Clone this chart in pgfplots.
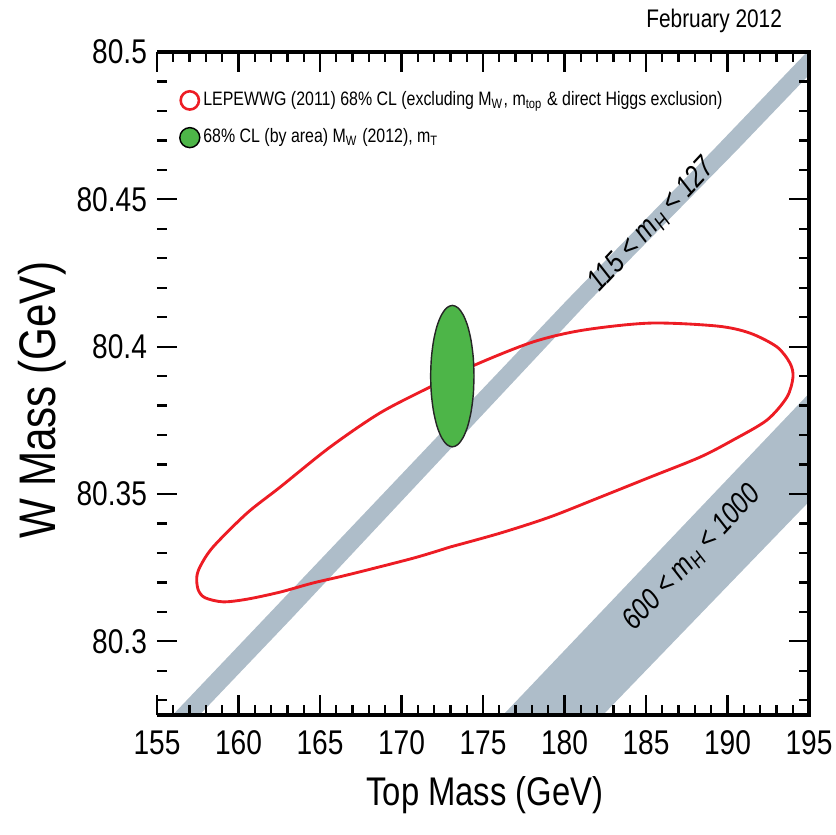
\documentclass[border=0pt]{standalone}
\usepackage{fontspec}
\setmainfont{Liberation Sans}[FakeStretch=0.82]
\usepackage{pgfplots}
\pgfplotsset{compat=1.18}
\definecolor{bandgray}{RGB}{174,189,201}
\definecolor{lepred}{RGB}{237,28,36}
\definecolor{cdfgreen}{RGB}{77,181,72}
\begin{document}
\begin{tikzpicture}
\begin{axis}[
  name=ax,
  scale only axis, width=228.2pt, height=232.05pt,
  xmin=155, xmax=195, ymin=80.275, ymax=80.5,
  xtick={155,160,...,195},
  minor xtick={155,...,195},
  ytick={80.3,80.35,80.4,80.45,80.5},
  yticklabels={80.3,80.35,80.4,80.45,80.5},
  minor ytick={80.28,80.29,80.31,80.32,80.33,80.34,80.36,80.37,80.38,80.39,80.41,80.42,80.43,80.44,80.46,80.47,80.48,80.49},
  scaled ticks=false,
  /pgf/number format/assume math mode=true,
  tick label style={font=\fontsize{12}{14}\selectfont},
  xticklabel style={yshift=-2pt},
  tick align=inside,
  major tick length=7pt, minor tick length=3.5pt,
  tick style={line width=0.8pt, black},
  axis line style={draw=none},
  axis on top=true,
  every axis x label/.style={at={(axis description cs:0.503,-0.121)}, anchor=center, font=\fontsize{14}{16}\selectfont},
  every axis y label/.style={at={(axis description cs:-0.176,0.475)}, anchor=center, rotate=90, font=\fontsize{18}{20}\selectfont},
  xlabel={Top Mass (GeV)},
  ylabel={W Mass (GeV)},
  legend style={at={(axis description cs:0.033,0.946)}, anchor=north west, draw=none, fill=none,
    font=\fontsize{6.8}{7.8}\selectfont, row sep=4.6pt, inner sep=0pt, nodes={inner sep=1pt}},
  legend cell align=left,
]
% 115 < mH < 127 band
\addplot[draw=none, fill=bandgray, forget plot] coordinates {
 (155.963,80.275) (161.503,80.3072) (180.153,80.4158) (189.110,80.4667) (194.877,80.5)
 (195.0,80.5) (195.0,80.4922) (190.583,80.4667) (181.564,80.4158) (163.160,80.3072) (157.607,80.275)
} -- cycle;
% 600 < mH < 1000 band
\addplot[draw=none, fill=bandgray, forget plot] coordinates {
 (176.23,80.275) (182.36,80.275) (195.0,80.3474) (195.0,80.3841)
} -- cycle;
% LEPEWWG 68% CL contour
\addplot[draw=lepred, line width=1pt, smooth, forget plot] coordinates {
(172.975,80.3320) (176.043,80.3367) (179.110,80.3422) (182.178,80.3489) (185.245,80.3557)
(188.313,80.3625) (190.337,80.3683) (192.423,80.3751) (193.650,80.3829) (194.018,80.3897)
(193.834,80.3944) (193.037,80.3999) (191.380,80.4046) (189.356,80.4070) (185.245,80.4080)
(181.135,80.4056) (178.067,80.4016) (174.509,80.3938) (171.748,80.3863) (168.681,80.3775)
(165.613,80.3659) (162.546,80.3523) (160.521,80.3435) (158.436,80.3320) (157.638,80.3253)
(157.436,80.3215) (157.534,80.3174) (157.945,80.3148) (159.049,80.3134) (160.521,80.3143)
(162.546,80.3167) (164.571,80.3198) (166.656,80.3225) (170.706,80.3282) (172.975,80.3320)
};
% 68% CL MW (2012), mt
\addplot[draw=black!85, line width=0.5pt, fill=cdfgreen, smooth, forget plot] coordinates {
(174.450,80.3900) (174.405,80.3962) (174.272,80.4020) (174.061,80.4070) (173.785,80.4108)
(173.464,80.4132) (173.120,80.4140) (172.776,80.4132) (172.455,80.4108) (172.179,80.4070)
(171.968,80.4020) (171.835,80.3962) (171.790,80.3900) (171.835,80.3838) (171.968,80.3780)
(172.179,80.3730) (172.455,80.3692) (172.776,80.3668) (173.120,80.3660) (173.464,80.3668)
(173.785,80.3692) (174.061,80.3730) (174.272,80.3780) (174.405,80.3838) (174.450,80.3900)
} -- cycle;
\node[rotate=47, font=\fontsize{10.5}{12}\selectfont\itshape] at (axis cs:185.37,80.4413) {115 < m\textsubscript{H} < 127};
\node[rotate=47, font=\fontsize{10.5}{12}\selectfont\itshape] at (axis cs:187.82,80.3282) {600 < m\textsubscript{H} < 1000};
\addlegendimage{legend image code/.code={\draw[draw=lepred, line width=0.9pt, fill=white] (3.5pt,0pt) circle (3.2pt);}}
\addlegendentry{LEPEWWG (2011) 68\% CL (excluding M\textsubscript{W}, m\textsubscript{top} \& direct Higgs exclusion)}
\addlegendimage{legend image code/.code={\draw[draw=black, line width=0.5pt, fill=cdfgreen] (3.5pt,0pt) circle (3.5pt);}}
\addlegendentry{68\% CL (by area) M\textsubscript{W} (2012), m\textsubscript{T}}
\end{axis}
\draw[line width=1.2pt] (ax.south west) -- (ax.south east) -- (ax.north east) -- (ax.north west);
\node[font=\fontsize{8.9}{10}\selectfont] at ([xshift=195pt,yshift=10.9pt]ax.north west) {February 2012};
\pgfresetboundingbox
\path[use as bounding box] ([shift={(-54.95pt,-42pt)}]ax.south west) rectangle ([shift={(9.45pt,18.2pt)}]ax.north east);
\end{tikzpicture}
\end{document}
